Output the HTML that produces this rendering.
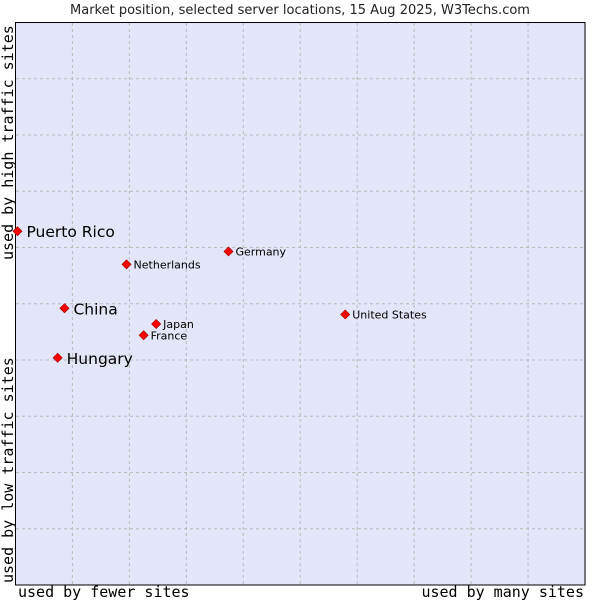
<!DOCTYPE html>
<html><head><meta charset="utf-8"><style>
body{margin:0;background:#fff;width:600px;height:600px;overflow:hidden}
svg text{font-family:"DejaVu Sans","Liberation Sans",sans-serif}
.mono{font-family:"DejaVu Sans Mono","Liberation Mono",monospace}
</style></head><body>
<svg id="c" width="600" height="600">
<text x="300" y="14" text-anchor="middle" font-size="13" fill="#222">Market position, selected server locations, 15 Aug 2025, W3Techs.com</text>
<rect x="15.5" y="22.5" width="569.5" height="562.5" fill="#e3e5f8" stroke="#000"/>
<g id="grid"></g>
<g id="pts"></g>
<text class="mono" x="18" y="597" font-size="15" fill="#000">used by fewer sites</text>
<text class="mono" x="584" y="597" text-anchor="end" font-size="15" fill="#000">used by many sites</text>
<text class="mono" transform="translate(13,583) rotate(-90)" font-size="15" fill="#000">used by low traffic sites</text>
<text class="mono" transform="translate(13,260) rotate(-90)" font-size="15" fill="#000">used by high traffic sites</text>
</svg>
<script>
const names=["Puerto Rico","Netherlands","Germany","China","Japan","France","United States","Hungary"];
const xVals=[0.35,19.5,37.4,8.6,24.7,22.5,57.9,7.4];
const yVals=[62.9,57.0,59.3,49.2,46.4,44.4,48.1,40.4];
const big=[true,false,false,true,false,false,false,true];
const X=v=>15.5+v*5.695, Y=v=>585-v*5.625;
const ns="http://www.w3.org/2000/svg";
const g=document.getElementById('grid'),p=document.getElementById('pts');
for(let i=1;i<10;i++){
 let l=document.createElementNS(ns,'line');
 
 
 l.setAttribute('x1',X(i*10));l.setAttribute('x2',X(i*10));l.setAttribute('y1',23);l.setAttribute('y2',585);
 l.setAttribute('stroke','#bbb');l.setAttribute('stroke-dasharray','3,3');g.appendChild(l);
 let m=document.createElementNS(ns,'line');
 
 
 m.setAttribute('y1',Y(i*10));m.setAttribute('y2',Y(i*10));m.setAttribute('x1',16);m.setAttribute('x2',585);
 m.setAttribute('stroke','#bbb');m.setAttribute('stroke-dasharray','3,3');g.appendChild(m);
}
names.forEach((n,i)=>{
 const x=X(xVals[i]),y=Y(yVals[i]);
 let d=document.createElementNS(ns,'polygon');
 
 
 d.setAttribute('points',`${x},${y-4.5} ${x+4.5},${y} ${x},${y+4.5} ${x-4.5},${y}`);
 d.setAttribute('fill','#f00');d.setAttribute('stroke','#a00');d.setAttribute('stroke-width','0.7');p.appendChild(d);
 let t=document.createElementNS(ns,'text');
 
 
 t.setAttribute('x',x+(big[i]?9:7));t.setAttribute('y',y+(big[i]?6:4));
 t.setAttribute('font-size',big[i]?15.5:11);t.setAttribute('fill','#000');t.textContent=n;p.appendChild(t);
});
</script>
</body></html>
